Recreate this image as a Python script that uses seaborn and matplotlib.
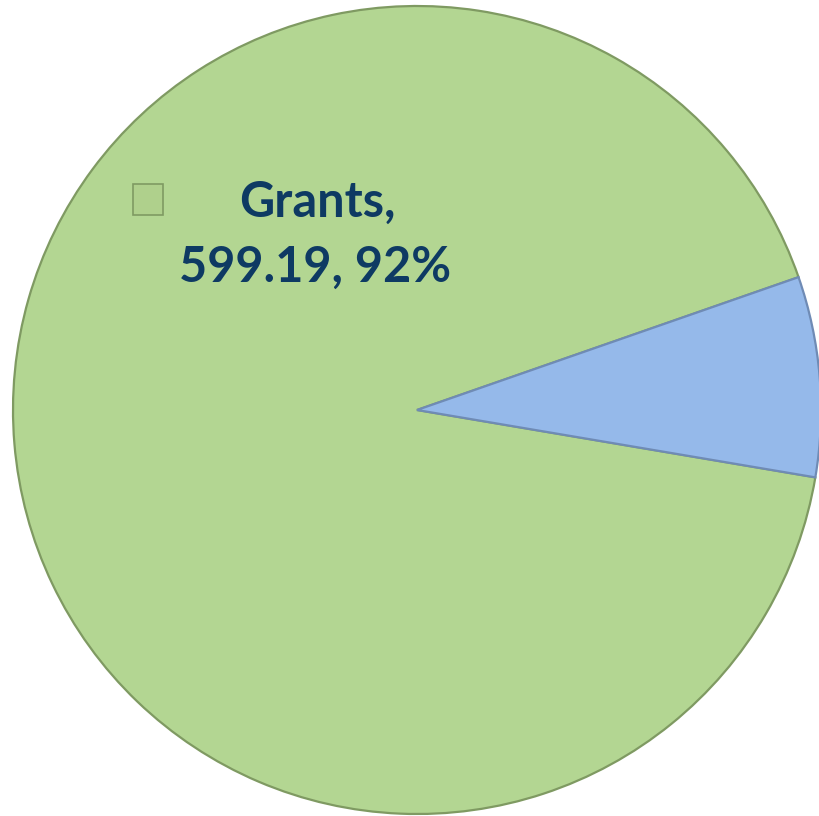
import matplotlib
matplotlib.use("Agg")
import matplotlib.pyplot as plt
import seaborn as sns
from matplotlib.patches import Rectangle

sns.set_theme(style="white")
plt.rcParams['font.family'] = ['Lato', 'DejaVu Sans']

# data
categories = ["Other", "Grants"]
values = [52.1, 599.19]
colors = ["#95B9EA", "#B3D692"]
label_lines = ["Grants,", "599.19, 92%"]

W, H = 820, 816
fig = plt.figure(figsize=(W / 100, H / 100), dpi=100)
fig.patch.set_facecolor("white")

cx, cy_top, r = 417, 410, 404
cy = H - cy_top
ax = fig.add_axes([(cx - r) / W, (cy - r) / H, 2 * r / W, 2 * r / H])

wedges, _ = ax.pie(values, colors=colors, startangle=-9.6, counterclock=True,
                   radius=1.0, center=(0, 0),
                   wedgeprops=dict(edgecolor="#7F9A62", linewidth=1.6))
ax.set_xlim(-1, 1)
ax.set_ylim(-1, 1)
ax.set_aspect("equal")
ax.axis("off")
for w in wedges:
    w.set_clip_on(False)
wedges[0].set_edgecolor("#6F8BB5")
wedges[0].set_zorder(3)

# legend key square
key = Rectangle((133 / W, (H - 215) / H), 30 / W, 31 / H,
                transform=fig.transFigure, facecolor="#AFD08C",
                edgecolor="#7F9A62", linewidth=1.2, zorder=10)
fig.add_artist(key)

txt_color = "#0E3A63"
fig.text(317 / W, (H - 217) / H, label_lines[0], ha="center", va="baseline",
         fontsize=35, fontweight="bold", color=txt_color, zorder=11)
fig.text(315 / W, (H - 282) / H, label_lines[1], ha="center", va="baseline",
         fontsize=35, fontweight="bold", color=txt_color, zorder=11)

fig.savefig("out.png", dpi=100)
